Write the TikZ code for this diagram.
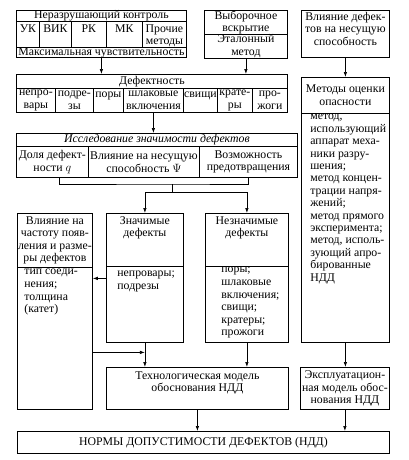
\documentclass[tikz,border=0pt]{standalone}
\usepackage{fontspec}
\setmainfont{Liberation Serif}
\usetikzlibrary{arrows.meta, calc}

\newcommand{\cellc}[3]{\parbox[c][#2pt][c]{#1pt}{\centering #3}}
\newcommand{\cellt}[4]{\parbox[c][#2pt][t]{#1pt}{\vspace*{#3pt}#4}}

\begin{document}
\begin{tikzpicture}[x=1pt, y=-1pt,
    cell/.style={draw, line width=0.8pt, inner sep=0pt, anchor=north west,
        font=\fontsize{11.8}{12.6}\selectfont},
    conn/.style={line width=0.7pt},
    arr/.style={conn, -{Latex[length=5pt, width=3.5pt]}}]
    \useasboundingbox (0,0) rectangle (408,460);

    \node[cell] (ndth) at (16,10) {\cellc{170}{11}{Неразрушающий контроль}};
    \node[cell] (uk) at (16,21) {\cellt{23}{26}{3}{\centering УК}};
    \node[cell] (vik) at (39,21) {\cellt{32}{26}{3}{\centering ВИК}};
    \node[cell] (rk) at (71,21) {\cellt{35}{26}{3}{\centering РК}};
    \node[cell] (mk) at (106,21) {\cellt{36}{26}{3}{\centering МК}};
    \node[cell] (proch) at (142,21) {\cellt{44}{26}{3}{\centering Прочие\\методы}};
    \node[cell] (sens) at (16,47) {\cellc{170}{10.5}{Максимальная чувствительность}};

    \node[cell] (vyb) at (204,10) {\cellc{83}{24}{Выборочное\\вскрытие}};
    \node[cell] (etal) at (204,34) {\cellc{83}{24}{Эталонный\\метод}};

    \node[cell] (infl) at (301,10) {\cellt{88}{47}{1.5}{\centering Влияние дефек-\\тов на несущую\\способность}};
    \node[cell] (methh) at (301,77) {\cellc{88}{36}{Методы оценки\\опасности}};
    \node[cell] (methb) at (301,113) {\cellt{88}{229}{1}{\fontsize{11.8}{12.4}\selectfont\raggedright\leftskip=9pt метод,\\использующий\\аппарат меха-\\ники разру-\\шения;\\метод концен-\\трации напря-\\жений;\\метод прямого\\эксперимента;\\метод, исполь-\\зующий апро-\\бированные\\НДД}};

    \node[cell] (defh) at (16,74) {\cellc{271}{14}{Дефектность}};
    \node[cell] (nepr) at (16,88) {\cellc{39}{24}{непро-\\вары}};
    \node[cell] (podr) at (55,88) {\cellc{38}{24}{подре-\\зы}};
    \node[cell] (por) at (93,88) {\cellt{30}{24}{4}{\centering поры}};
    \node[cell] (shl) at (123,88) {\cellc{60}{24}{шлаковые\\включения}};
    \node[cell] (svi) at (183,88) {\cellt{34}{24}{4}{\centering свищи}};
    \node[cell] (krat) at (217,88) {\cellc{35}{24}{крате-\\ры}};
    \node[cell] (prozh) at (252,88) {\cellc{35}{24}{про-\\жоги}};

    \node[cell] (resh) at (16,133) {\cellc{281}{13}{\itshape Исследование значимости дефектов}};
    \node[cell] (dolya) at (16,146) {\cellc{72}{31}{Доля дефект-\\ности $q$}};
    \node[cell] (vlij) at (88,146) {\cellc{111}{31}{Влияние на несущую\\способность $\Psi$}};
    \node[cell] (vozm) at (199,146) {\cellc{98}{31}{Возможность\\предотвращения}};

    \node[cell] (leftt) at (17,213) {\cellc{75}{54}{Влияние на\\частоту появ-\\ления и разме-\\ры дефектов}};
    \node[cell] (leftb) at (17,267) {\cellt{75}{142}{2}{\raggedright\leftskip=7pt тип соеди-\\нения;\\толщина\\(катет)}};
    \node[cell] (sigh) at (106,213) {\cellt{77}{53}{3}{\centering Значимые\\дефекты}};
    \node[cell] (sigb) at (106,266) {\cellt{77}{76}{4.5}{\raggedright\leftskip=11pt непровары;\\подрезы}};
    \node[cell] (insh) at (205,213) {\cellt{83}{53}{3}{\centering Незначимые\\дефекты}};
    \node[cell] (insb) at (205,266) {\cellt{83}{76}{1}{\raggedright\leftskip=16pt поры;\\шлаковые\\включения;\\свищи;\\кратеры;\\прожоги}};

    \node[cell] (tech) at (106,367) {\cellt{182}{42}{4}{\centering Технологическая модель\\обоснования НДД}};
    \node[cell] (expl) at (300,367) {\cellc{89}{42}{Эксплуатацион-\\ная модель обос-\\нования НДД}};
    \node[cell] (ndd) at (17,431) {\cellc{372}{22}{НОРМЫ ДОПУСТИМОСТИ ДЕФЕКТОВ (НДД)}};

    \draw[arr] (sens.south) -- (sens.south |- defh.north);
    \draw[arr] (etal.south) -- (etal.south |- defh.north);
    \draw[arr] (infl.south) -- (methh.north);
    \draw[arr] (shl.south) -- (shl.south |- resh.north);

    \coordinate (brk) at (172,184);
    \coordinate (fork) at (172,192);
    \draw[conn] ([xshift=7pt]dolya.south) |- (brk) -| (vozm.south);
    \draw[conn] (brk) -- (fork);
    \draw[arr] (fork) -| (sigh.north);
    \draw[arr] (fork) -| (insh.north);

    \draw[arr] ($(sigb.west)+(0,-26)$) -- ($(leftb.east |- sigb.west)+(0,-26)$);
    \draw[arr] ($(leftb.east)+(0,14)$) -- ($(sigb.south |- leftb.east)+(0,14)$);
    \draw[arr] (sigb.south) -- (sigb.south |- tech.north);
    \draw[arr] (insb.south) -- (insb.south |- tech.north);
    \draw[arr] (tech.south) -- (tech.south |- ndd.north);
    \draw[arr] (methb.south) -- (methb.south |- expl.north);
    \draw[arr] (expl.south) -- (expl.south |- ndd.north);
\end{tikzpicture}
\end{document}
